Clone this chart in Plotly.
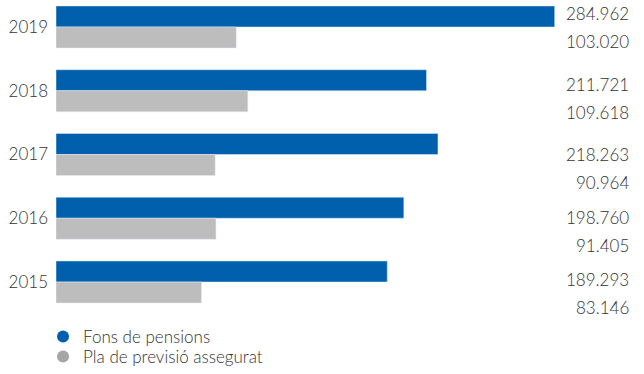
import plotly.graph_objects as go

# ---- data ----
years = ["2015", "2016", "2017", "2018", "2019"]
fons_pensions = [189.293, 198.760, 218.263, 211.721, 284.962]
pla_previsio = [83.146, 91.405, 90.964, 109.618, 103.020]
series_names = ["Fons de pensions", "Pla de previsió assegurat"]

# ---- style ----
BLUE = "#0060ad"
GREY = "#bdbdbd"
GREY_LEG = "#a6a6a6"
TXT = "#333333"
FONT = "Lato"
WEIGHT = 300
BAR_W = 0.33
label_dy = [-2.5, -1, 0, -6, -13.5]  # px shift of value labels per row (downwards)
LABEL_GAP = 28

idx = list(range(len(years)))

def fmt(v):
    return f"{v:.3f}"

fnt = dict(family=FONT, size=17, color=TXT, weight=WEIGHT)

fig = go.Figure()
fig.add_trace(go.Bar(y=idx, x=fons_pensions, orientation="h", marker_color=BLUE,
                     width=BAR_W, offset=0, showlegend=False, hoverinfo="x"))
fig.add_trace(go.Bar(y=idx, x=pla_previsio, orientation="h", marker_color=GREY,
                     width=BAR_W, offset=-BAR_W, showlegend=False, hoverinfo="x"))
# legend entries with circular markers
fig.add_trace(go.Scatter(x=[None], y=[None], mode="markers", name=series_names[0],
                         marker=dict(symbol="circle", size=12, color=BLUE),
                         legend="legend"))
fig.add_trace(go.Scatter(x=[None], y=[None], mode="markers", name=series_names[1],
                         marker=dict(symbol="circle", size=12, color=GREY_LEG),
                         legend="legend2"))

annotations = []
for i, (a, b) in enumerate(zip(fons_pensions, pla_previsio)):
    annotations.append(dict(x=1, xref="paper", y=i, yref="y", text=fmt(a),
                            xanchor="right", yanchor="middle", xshift=57,
                            yshift=-label_dy[i], showarrow=False, font=fnt))
    annotations.append(dict(x=1, xref="paper", y=i, yref="y", text=fmt(b),
                            xanchor="right", yanchor="middle", xshift=57,
                            yshift=-(label_dy[i] + LABEL_GAP), showarrow=False,
                            font=fnt))

leg_common = dict(x=-0.025, xanchor="left", yanchor="top", orientation="v",
                  font=fnt, bgcolor="rgba(0,0,0,0)", itemsizing="trace")

fig.update_layout(
    width=644, height=374,
    margin=dict(l=56, r=70, t=0, b=54, autoexpand=False),
    paper_bgcolor="white", plot_bgcolor="white",
    barmode="overlay",
    font=fnt,
    xaxis=dict(range=[0, 296], visible=False, fixedrange=True),
    yaxis=dict(range=[-0.596, 4.4235], tickvals=idx, ticktext=years,
               showgrid=False, zeroline=False, showline=False, ticks="",
               ticklabelstandoff=7, tickfont=fnt, fixedrange=True),
    legend=dict(y=0.003, **leg_common),
    legend2=dict(y=-0.059, **leg_common),
    annotations=annotations,
)

fig.write_html("out.html")
